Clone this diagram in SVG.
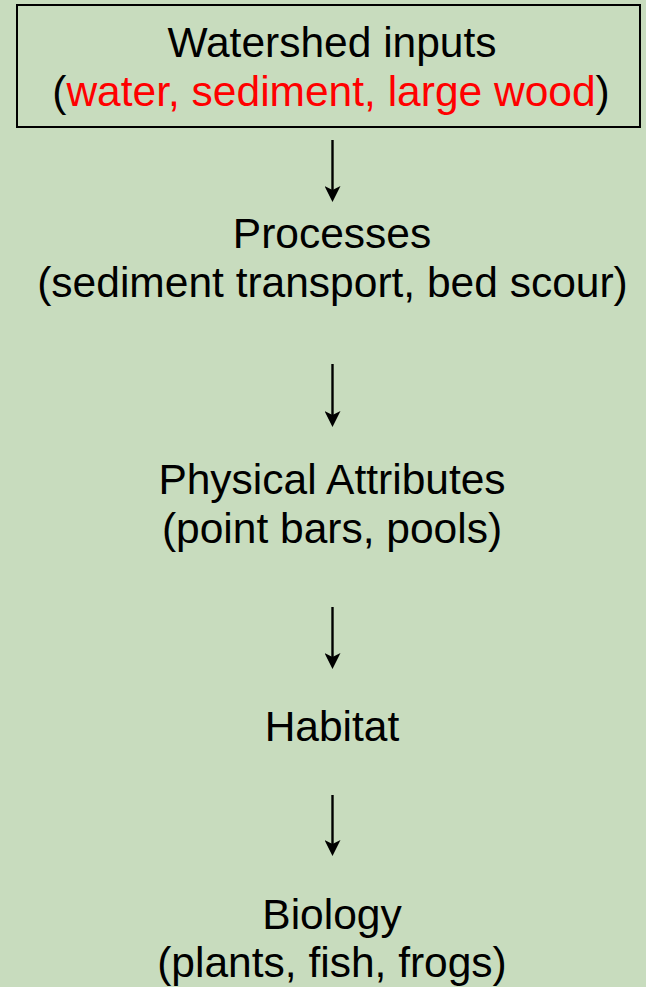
<svg xmlns="http://www.w3.org/2000/svg" width="646" height="987" viewBox="0 0 646 987">
  <defs>
    <style>
      .t { font-family: "Liberation Sans", Arial, sans-serif; font-size: 42.5px; fill: #000; text-anchor: middle; }
      .red { fill: #FF0000; }
      .conn { stroke: #000; stroke-width: 2.4; fill: none; marker-end: url(#arrow); }
    </style>
    <marker id="arrow" viewBox="0 0 16 16" refX="6" refY="8" markerWidth="16" markerHeight="16" markerUnits="userSpaceOnUse" orient="auto">
      <path d="M0,0 L16,8 L0,16 L4,8 Z" fill="#000"/>
    </marker>
  </defs>
  <rect x="0" y="0" width="646" height="987" fill="#C8DCBE"/>

  <g id="watershed-inputs">
    <rect x="17" y="5" width="623" height="122" fill="none" stroke="#000" stroke-width="2"/>
    <text class="t" x="332" y="57">Watershed inputs</text>
    <text class="t" x="331" y="106">(<tspan class="red">water, sediment, large wood</tspan>)</text>
  </g>

  <g id="processes">
    <text class="t" x="332" y="248">Processes</text>
    <text class="t" x="332.5" y="297">(sediment transport, bed scour)</text>
  </g>

  <g id="physical-attributes">
    <text class="t" x="332" y="494">Physical Attributes</text>
    <text class="t" x="332" y="543">(point bars, pools)</text>
  </g>

  <g id="habitat">
    <text class="t" x="332" y="741">Habitat</text>
  </g>

  <g id="biology">
    <text class="t" x="332" y="929">Biology</text>
    <text class="t" x="332" y="977">(plants, fish, frogs)</text>
  </g>

  <g id="connectors">
    <line class="conn" x1="332.5" y1="140" x2="332.5" y2="192"/>
    <line class="conn" x1="332.5" y1="364" x2="332.5" y2="417"/>
    <line class="conn" x1="332.5" y1="607" x2="332.5" y2="659"/>
    <line class="conn" x1="332.5" y1="795" x2="332.5" y2="846"/>
  </g>
</svg>
